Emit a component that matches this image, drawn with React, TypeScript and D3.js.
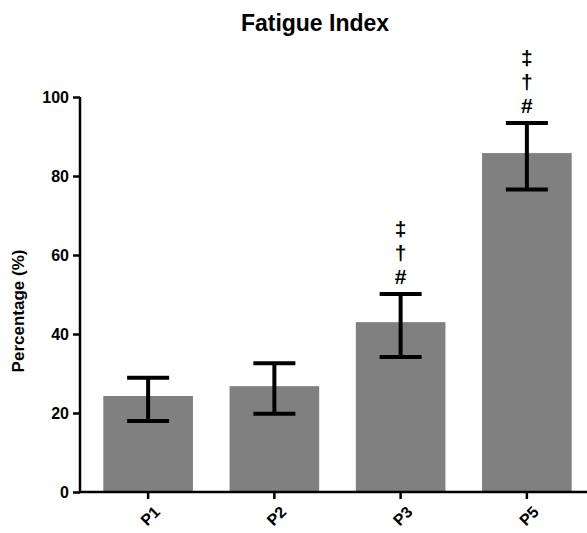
import { useEffect, useRef } from "react";
import * as d3 from "d3";

const categories = ["P1", "P2", "P3", "P5"];
const means = [24.3, 26.8, 43.0, 85.8];
const errLow = [18.0, 19.8, 34.2, 76.6];
const errHigh = [28.9, 32.6, 50.1, 93.4];
const marks = [[], [], ["#", "†", "‡"], ["#", "†", "‡"]];
const yTicks = [0, 20, 40, 60, 80, 100];

export default function App() {
  const ref = useRef<SVGSVGElement>(null);

  useEffect(() => {
    const svg = d3.select(ref.current);
    svg.selectAll("*").remove();

    const x = d3.scaleBand().domain(categories).range([85, 590])
      .paddingInner(0.29).paddingOuter(0.145);
    const y = d3.scaleLinear().domain([0, 100]).range([492, 97]);
    const font = "'Liberation Sans', Arial, sans-serif";

    svg.append("text")
      .attr("x", 315).attr("y", 31)
      .attr("text-anchor", "middle")
      .attr("font-family", font).attr("font-weight", "bold").attr("font-size", 23)
      .text("Fatigue Index");

    svg.append("text")
      .attr("transform", "translate(24,311) rotate(-90)")
      .attr("text-anchor", "middle")
      .attr("font-family", font).attr("font-weight", "bold").attr("font-size", 17)
      .text("Percentage (%)");

    // bars
    svg.selectAll(".bar").data(categories).enter().append("rect")
      .attr("x", d => x(d)!)
      .attr("y", (d, i) => y(means[i]))
      .attr("width", x.bandwidth())
      .attr("height", (d, i) => y(0) - y(means[i]))
      .attr("fill", "#808080");

    // error bars + significance marks
    const eb = svg.append("g").attr("stroke", "#000").attr("stroke-width", 4);
    categories.forEach((c, i) => {
      const cx = x(c)! + x.bandwidth() / 2;
      eb.append("line").attr("x1", cx).attr("x2", cx).attr("y1", y(errLow[i])).attr("y2", y(errHigh[i]));
      eb.append("line").attr("x1", cx - 21).attr("x2", cx + 21).attr("y1", y(errLow[i])).attr("y2", y(errLow[i]));
      eb.append("line").attr("x1", cx - 21).attr("x2", cx + 21).attr("y1", y(errHigh[i])).attr("y2", y(errHigh[i]));
      marks[i].forEach((m, j) => {
        svg.append("text")
          .attr("x", cx).attr("y", y(errHigh[i]) - 10 - j * 24)
          .attr("text-anchor", "middle")
          .attr("font-family", font).attr("font-weight", "bold").attr("font-size", 21)
          .text(m);
      });
    });

    // y axis
    const ya = svg.append("g").attr("transform", "translate(80,0)")
      .call(d3.axisLeft(y).tickValues(yTicks).tickSize(7).tickPadding(4));
    ya.select(".domain").attr("stroke-width", 2.5).attr("d", `M0,${y(100)}V${y(0)}`);
    ya.selectAll(".tick line").attr("stroke-width", 2.5);
    ya.selectAll("text").attr("font-family", font).attr("font-weight", "bold").attr("font-size", 16).attr("fill", "#000");

    // x axis
    const xa = svg.append("g").attr("transform", `translate(0,${y(0)})`)
      .call(d3.axisBottom(x).tickSize(7).tickSizeOuter(0));
    xa.select(".domain").attr("stroke-width", 2.5).attr("d", "M79,0H590");
    xa.selectAll(".tick line").attr("stroke-width", 2.5);
    xa.selectAll("text")
      .attr("font-family", font).attr("font-weight", "bold").attr("font-size", 16).attr("fill", "#000")
      .attr("text-anchor", "end")
      .attr("y", 0)
      .attr("dy", "0.35em")
      .attr("transform", "translate(9,17) rotate(-45)");
  }, []);

  return (
    <svg ref={ref} width={587} height={533}
      style={{ position: "absolute", left: 0, top: 0, background: "#fff" }} />
  );
}
